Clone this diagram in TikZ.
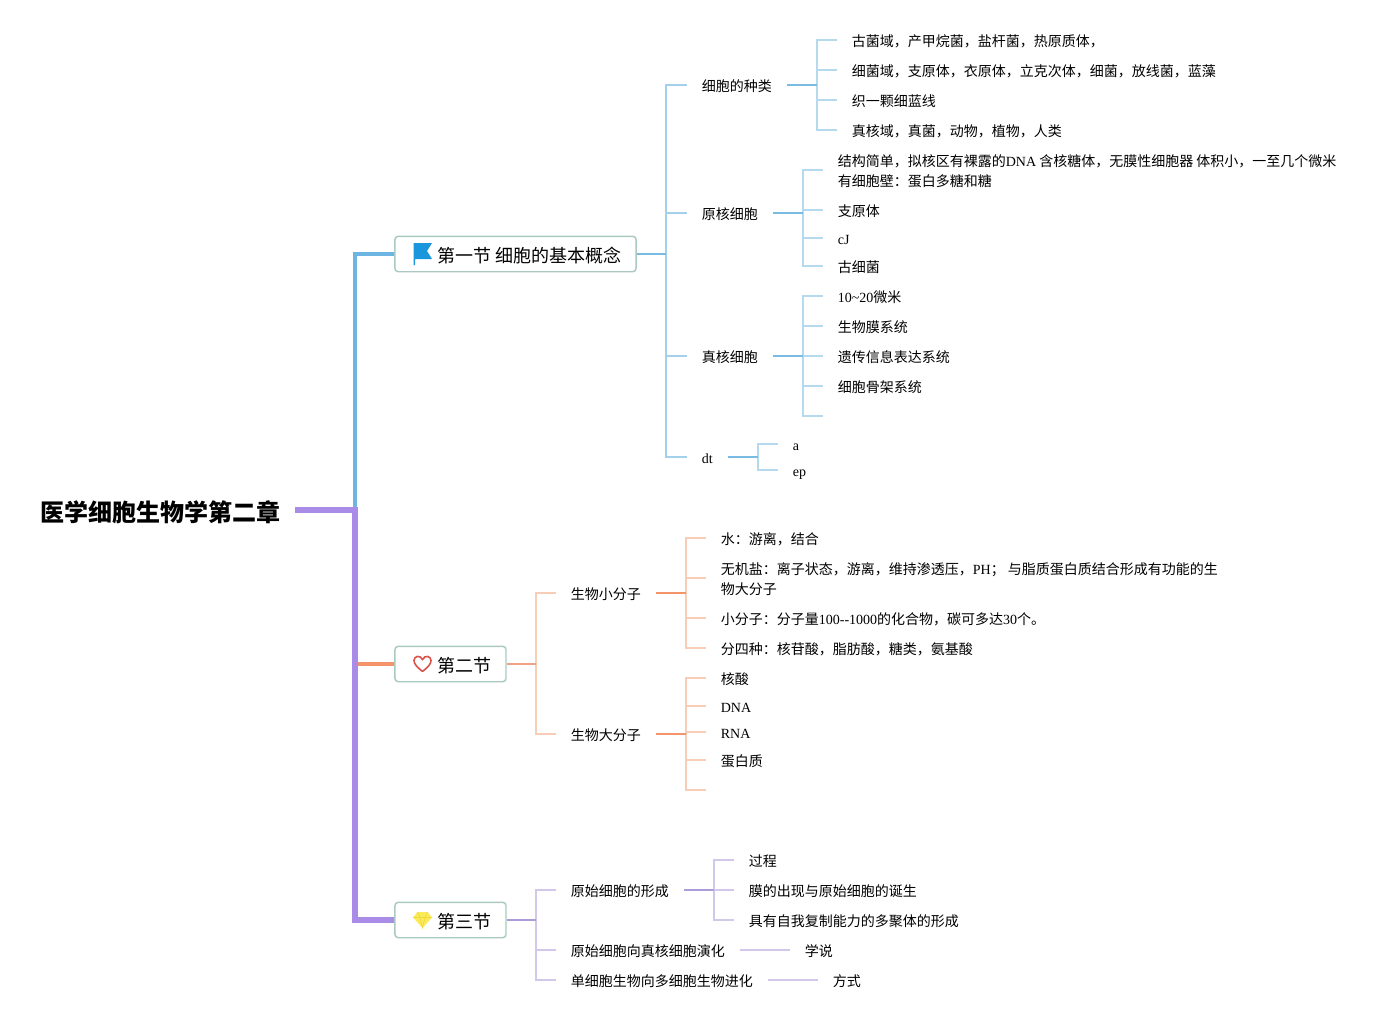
\documentclass[tikz,border=0pt]{standalone}
\usepackage{fontspec}
\setmainfont{Noto Sans CJK SC}
\newfontfamily\latinfont{Liberation Serif}
\newcommand{\en}[1]{{\latinfont #1}}
\definecolor{bluetrunk}{HTML}{6CB5E3}
\definecolor{bluestem}{HTML}{7ABBE3}
\definecolor{bluetwig}{HTML}{B5DAEF}
\definecolor{orangetrunk}{HTML}{F5946A}
\definecolor{orangestem}{HTML}{F0A282}
\definecolor{orangetwig}{HTML}{F8CDB8}
\definecolor{purpletrunk}{HTML}{A98CE8}
\definecolor{purplestem}{HTML}{AD9BDC}
\definecolor{purpletwig}{HTML}{D2C8EC}
\definecolor{boxedge}{HTML}{A9C9C2}
\definecolor{flagblue}{HTML}{1A96DC}
\definecolor{heartred}{HTML}{D9534A}
\definecolor{gemyellow}{HTML}{FBEB5A}
\definecolor{gemedge}{HTML}{F0D93C}
\tikzset{
	x=0.75pt, y=-0.75pt,
	leaf/.style={anchor=west, inner xsep=11.25pt, inner ysep=0pt, text height=10.1pt, text depth=0pt, font=\fontsize{10.5pt}{15pt}\selectfont, align=left},
	twoline/.style={leaf, text height=24.6pt},
	section/.style={anchor=west, draw=boxedge, line width=1.1pt, rounded corners=2.5pt, inner xsep=10.7pt, inner ysep=0pt, minimum height=26.6pt, text height=12pt, text depth=0pt, font=\fontsize{13.5pt}{16pt}\selectfont},
	title/.style={anchor=west, inner xsep=10.5pt, inner ysep=0pt, text height=17pt, text depth=0pt, font=\fontsize{18pt}{20pt}\selectfont\bfseries},
	trunk/.style={line width=#1, miter limit=10},
	stem/.style={line width=1.6pt},
	twig/.style={line width=1.4pt},
}
\begin{document}
\begin{tikzpicture}
	\useasboundingbox (0,0) rectangle (1398,1020);
	% root and sections
	\node[title] (root) at (26.3,510) {医学细胞生物学第二章};
	\coordinate (spine) at (355,510);
	\node[section] (sec1) at (394.2,254) {\hspace*{21.4pt}第一节 细胞的基本概念};
	\node[section] (sec2) at (394.2,664) {\hspace*{21.4pt}第二节};
	\node[section] (sec3) at (394.2,920) {\hspace*{21.4pt}第三节};
	\draw[trunk=3pt, bluetrunk] (spine) |- (sec1.west);
	\draw[trunk=2.4pt, orangetrunk] (spine |- sec2.west) -- (sec2.west);
	\draw[trunk=4.4pt, purpletrunk] (root.east) -- (spine) |- (sec3.west);

	% section icons
	\fill[flagblue] (413.5,243) -- (432,243) -- (427,251) -- (432,259) -- (415,259) -- (415,265) -- (413.5,265) -- cycle;
	\draw[line width=1.2pt, heartred] (422.5,671.5) .. controls (417,667) and (414,664) .. (414,660.5) .. controls (414,656) and (420,654.5) .. (422.5,659.5) .. controls (425,654.5) and (431,656) .. (431,660.5) .. controls (431,664) and (428,667) .. (422.5,671.5);
	\fill[gemyellow] (417.5,912) -- (427.5,912) -- (432,917.5) -- (422.5,928) -- (413,917.5) -- cycle;
	\draw[line width=0.5pt, gemedge] (413,917.5) -- (432,917.5) (417.5,912) -- (420,917.5) -- (422.5,928) -- (425,917.5) -- (427.5,912);

	% first section
	\node[leaf] (kinds) at (686.6,85) {细胞的种类};
	\node[leaf] (prok) at (686.6,213) {原核细胞};
	\node[leaf] (euk) at (686.6,356) {真核细胞};
	\node[leaf] (dt) at (686.6,457) {\en{dt}};
	\node[leaf] (kindsa) at (836.6,40) {古菌域，产甲烷菌，盐杆菌，热原质体，};
	\node[leaf] (kindsb) at (836.6,70) {细菌域，支原体，衣原体，立克次体，细菌，放线菌，蓝藻};
	\node[leaf] (kindsc) at (836.6,100) {织一颗细蓝线};
	\node[leaf] (kindsd) at (836.6,130) {真核域，真菌，动物，植物，人类};
	\node[twoline] (proka) at (822.6,170) {结构简单，拟核区有裸露的\en{DNA} 含核糖体，无膜性细胞器 体积小，一至几个微米\\有细胞壁：蛋白多糖和糖};
	\node[leaf] (prokb) at (822.6,210) {支原体};
	\node[leaf] (prokc) at (822.6,238) {\en{cJ}};
	\node[leaf] (prokd) at (822.6,266) {古细菌};
	\node[leaf] (euka) at (822.6,296) {\en{10\textasciitilde20}微米};
	\node[leaf] (eukb) at (822.6,326) {生物膜系统};
	\node[leaf] (eukc) at (822.6,356) {遗传信息表达系统};
	\node[leaf] (eukd) at (822.6,386) {细胞骨架系统};
	\coordinate (euke) at (822.6,416);
	\node[leaf] (dta) at (777.6,444) {\en{a}};
	\node[leaf] (dtb) at (777.6,470) {\en{ep}};
	\foreach \child in {kinds,prok,euk,dt}
		\draw[stem, bluetwig!70!bluestem] (sec1.east) ++(29.4,0) |- (\child.west);
	\draw[stem, bluestem] (sec1.east) -- ++(29.4,0);
	\foreach \child in {kindsa,kindsb,kindsc,kindsd}
		\draw[twig, bluetwig] (kinds.east) ++(30,0) |- (\child.west);
	\draw[twig, bluestem] (kinds.east) -- ++(30,0);
	\foreach \child in {proka,prokb,prokc,prokd}
		\draw[twig, bluetwig] (prok.east) ++(30,0) |- (\child.west);
	\draw[twig, bluestem] (prok.east) -- ++(30,0);
	\foreach \child in {euka,eukb,eukc,eukd,euke}
		\draw[twig, bluetwig] (euk.east) ++(30,0) |- (\child);
	\draw[twig, bluestem] (euk.east) -- ++(30,0);
	\foreach \child in {dta,dtb}
		\draw[twig, bluetwig] (dt.east) ++(30,0) |- (\child.west);
	\draw[twig, bluestem] (dt.east) -- ++(30,0);

	% second section
	\node[leaf] (small) at (555.6,593) {生物小分子};
	\node[leaf] (large) at (555.6,734) {生物大分子};
	\node[leaf] (smalla) at (705.6,538) {水：游离，结合};
	\node[twoline] (smallb) at (705.6,578) {无机盐：离子状态，游离，维持渗透压，\en{PH}； 与脂质蛋白质结合形成有功能的生\\物大分子};
	\node[leaf] (smallc) at (705.6,618) {小分子：分子量\en{100{-}{-}1000}的化合物，碳可多达\en{30}个。};
	\node[leaf] (smalld) at (705.6,648) {分四种：核苷酸，脂肪酸，糖类，氨基酸};
	\node[leaf] (largea) at (705.6,678) {核酸};
	\node[leaf] (largeb) at (705.6,706) {\en{DNA}};
	\node[leaf] (largec) at (705.6,732) {\en{RNA}};
	\node[leaf] (larged) at (705.6,760) {蛋白质};
	\coordinate (largee) at (705.6,790);
	\foreach \child in {small,large}
		\draw[stem, orangetwig] (sec2.east) ++(29.4,0) |- (\child.west);
	\draw[stem, orangestem] (sec2.east) -- ++(29.4,0);
	\foreach \child in {smalla,smallb,smallc,smalld}
		\draw[twig, orangetwig] (small.east) ++(30,0) |- (\child.west);
	\draw[twig, orangetrunk] (small.east) -- ++(30,0);
	\foreach \child in {largea,largeb,largec,larged,largee}
		\draw[twig, orangetwig] (large.east) ++(30,0) |- (\child);
	\draw[twig, orangetrunk] (large.east) -- ++(30,0);

	% third section
	\node[leaf] (origin) at (555.6,890) {原始细胞的形成};
	\node[leaf] (evolve) at (555.6,950) {原始细胞向真核细胞演化};
	\node[leaf] (multi) at (555.6,980) {单细胞生物向多细胞生物进化};
	\node[leaf] (origina) at (733.6,860) {过程};
	\node[leaf] (originb) at (733.6,890) {膜的出现与原始细胞的诞生};
	\node[leaf] (originc) at (733.6,920) {具有自我复制能力的多聚体的形成};
	\node[leaf] (theory) at (789.6,950) {学说};
	\node[leaf] (ways) at (817.6,980) {方式};
	\foreach \child in {origin,evolve,multi}
		\draw[stem, purpletwig] (sec3.east) ++(29.4,0) |- (\child.west);
	\draw[stem, purplestem] (sec3.east) -- ++(29.4,0);
	\foreach \child in {origina,originb,originc}
		\draw[twig, purpletwig] (origin.east) ++(30,0) |- (\child.west);
	\draw[twig, purplestem] (origin.east) -- ++(30,0);
	\draw[twig, purpletwig] (evolve.east) -- (theory.west);
	\draw[twig, purpletwig] (multi.east) -- (ways.west);
\end{tikzpicture}
\end{document}
